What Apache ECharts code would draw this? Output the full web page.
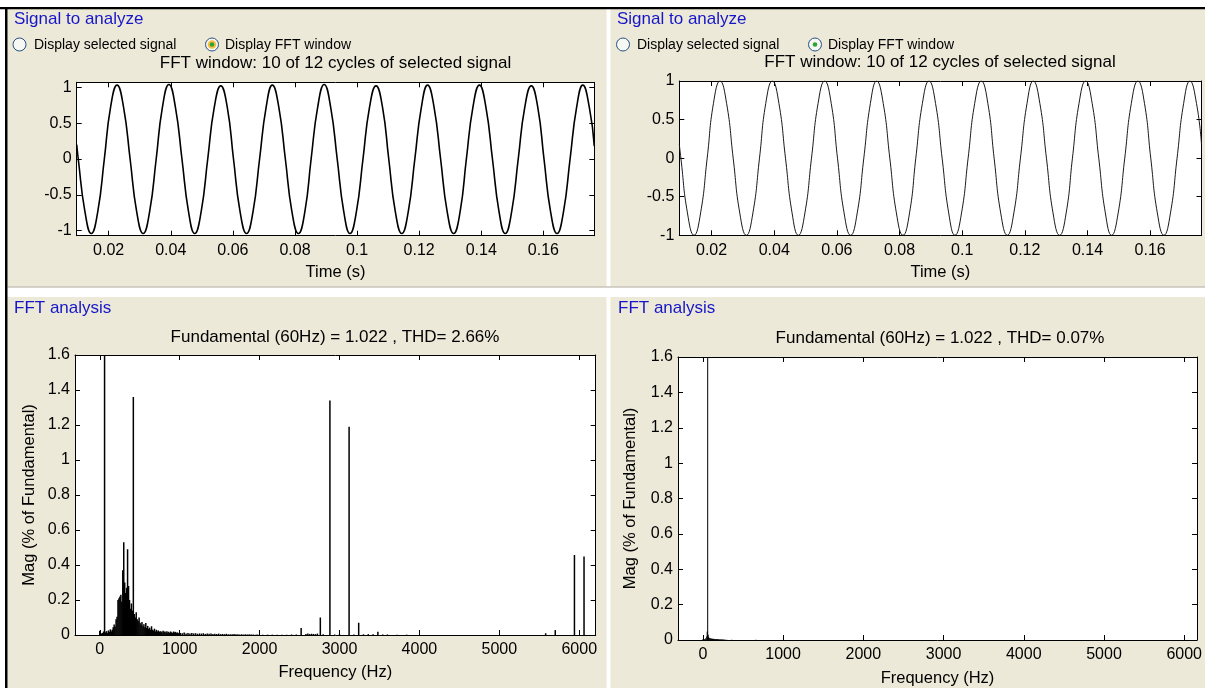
<!DOCTYPE html>
<html>
<head>
<meta charset="utf-8">
<title>FFT analysis</title>
<script src="https://cdn.jsdelivr.net/npm/echarts@6/dist/echarts.min.js"></script>
<style>
  html, body { margin: 0; padding: 0; background: #fff; }
  #main { width: 1205px; height: 688px; }
</style>
</head>
<body>
<div id="main"></div>
<script>
// FFT window time base (s)
var sigTime = [0.0097, 0.0102, 0.0123,
  0.0144, 0.0165, 0.0186, 0.0206, 0.0227, 0.0248, 0.0269, 0.0290,
  0.0311, 0.0332, 0.0353, 0.0373, 0.0394, 0.0415, 0.0436, 0.0457,
  0.0477, 0.0498, 0.0519, 0.0540, 0.0561, 0.0582, 0.0602, 0.0623,
  0.0644, 0.0665, 0.0686, 0.0707, 0.0727, 0.0748, 0.0769, 0.0790,
  0.0811, 0.0832, 0.0852, 0.0873, 0.0894, 0.0915, 0.0936, 0.0957,
  0.0977, 0.0998, 0.1019, 0.1040, 0.1061, 0.1082, 0.1102, 0.1123,
  0.1144, 0.1165, 0.1186, 0.1207, 0.1227, 0.1248, 0.1269, 0.1290,
  0.1311, 0.1332, 0.1352, 0.1373, 0.1394, 0.1415, 0.1436, 0.1457,
  0.1477, 0.1498, 0.1519, 0.1540, 0.1561, 0.1582, 0.1602, 0.1623,
  0.1644, 0.1665, 0.1686, 0.1707, 0.1727, 0.1748, 0.1764];
// left: signal with harmonics
var sigA = [0.2, 0, -0.72,
  -1.04, -0.73, 0, 0.72, 1.03, 0.72, 0, -0.73,
  -1.04, -0.73, 0, 0.72, 1.04, 0.72, 0, -0.73,
  -1.04, -0.73, 0, 0.72, 1.02, 0.72, 0, -0.73,
  -1.04, -0.73, 0, 0.72, 1.03, 0.72, 0, -0.73,
  -1.04, -0.73, 0, 0.72, 1.04, 0.72, 0, -0.73,
  -1.04, -0.73, 0, 0.72, 1.02, 0.72, 0, -0.73,
  -1.04, -0.73, 0, 0.72, 1.03, 0.72, 0, -0.73,
  -1.04, -0.73, 0, 0.72, 1.03, 0.72, 0, -0.73,
  -1.04, -0.73, 0, 0.72, 1.02, 0.72, 0, -0.73,
  -1.04, -0.73, 0, 0.72, 1.03, 0.72, 0.18];
// right: clean signal
var sigB = [0.18, 0, -0.71,
  -1, -0.71, 0, 0.71, 1, 0.71, 0, -0.71,
  -1, -0.71, 0, 0.71, 1, 0.71, 0, -0.71,
  -1, -0.71, 0, 0.71, 1, 0.71, 0, -0.71,
  -1, -0.71, 0, 0.71, 1, 0.71, 0, -0.71,
  -1, -0.71, 0, 0.71, 1, 0.71, 0, -0.71,
  -1, -0.71, 0, 0.71, 1, 0.71, 0, -0.71,
  -1, -0.71, 0, 0.71, 1, 0.71, 0, -0.71,
  -1, -0.71, 0, 0.71, 1, 0.71, 0, -0.71,
  -1, -0.71, 0, 0.71, 1, 0.71, 0, -0.71,
  -1, -0.71, 0, 0.71, 1, 0.71, 0.18];

var timeTicks = [0.02, 0.04, 0.06, 0.08, 0.1, 0.12, 0.14, 0.16];
var sigTicks = [-1, -0.5, 0, 0.5, 1];
var freqTicks = [0, 1000, 2000, 3000, 4000, 5000, 6000];
var magTicks = [0, 0.2, 0.4, 0.6, 0.8, 1, 1.2, 1.4, 1.6];

// spectrum, left (Hz / % of fundamental)
var freqA = [0, 12, 24, 36, 48, 60, 72, 84, 96, 108, 120, 132, 144, 156, 168, 180, 192, 204, 216, 228,
  240, 252, 264, 276, 288, 300, 312, 324, 336, 348, 360, 372, 384, 396, 408, 420, 432, 444, 456, 468,
  480, 492, 504, 516, 528, 540, 552, 564, 576, 588, 600, 612, 624, 636, 648, 660, 672, 684, 696, 708,
  720, 732, 744, 756, 768, 780, 792, 804, 816, 828, 840, 852, 864, 876, 888, 900, 912, 924, 936, 948,
  960, 972, 984, 996,
  1008, 1032, 1056, 1080, 1104, 1128, 1152, 1176, 1200, 1224, 1248, 1272, 1296, 1320, 1344, 1368, 1392, 1416, 1440, 1464,
  1488, 1512, 1536, 1560, 1584, 1608, 1632, 1656, 1680, 1704, 1728, 1752, 1776, 1800, 1824, 1848, 1872, 1896, 1920, 1944,
  1968, 1992,
  2040, 2100, 2160, 2220, 2280, 2340, 2400, 2460, 2520, 2580, 2604, 2628, 2652, 2676, 2700, 2724, 2760, 2796, 2880, 2940,
  3000, 3120, 3180, 3240, 3300, 3360, 3420, 3480, 3540, 3600, 3720, 3840, 5580, 5700, 5940, 6060];
var magA = [0.025, 0.010, 0.008, 0.012, 0.020, 100, 0.015, 0.022, 0.012, 0.026, 0.018, 0.032, 0.020, 0.030, 0.045, 0.060, 0.048, 0.090, 0.105, 0.200,
  0.210, 0.220, 0.230, 0.190, 0.370, 0.530, 0.300, 0.240, 0.270, 0.490, 0.280, 0.200, 0.150, 0.180, 0.140, 1.360, 0.120, 0.100, 0.130, 0.090,
  0.080, 0.100, 0.070, 0.060, 0.075, 0.050, 0.062, 0.045, 0.068, 0.040, 0.052, 0.035, 0.042, 0.030, 0.050, 0.030, 0.025, 0.036, 0.020, 0.030,
  0.020, 0.026, 0.018, 0.022, 0.020, 0.015, 0.025, 0.018, 0.020, 0.015, 0.022, 0.014, 0.018, 0.012, 0.020, 0.015, 0.012, 0.020, 0.015, 0.018,
  0.012, 0.015, 0.010, 0.012,
  0.012, 0.010, 0.014, 0.009, 0.011, 0.008, 0.012, 0.009, 0.010, 0.007, 0.009, 0.008, 0.010, 0.006, 0.008, 0.007, 0.009, 0.006, 0.007, 0.006,
  0.008, 0.005, 0.006, 0.005, 0.007, 0.004, 0.005, 0.004, 0.006, 0.004, 0.005, 0.003, 0.004, 0.003, 0.004, 0.003, 0.004, 0.003, 0.003, 0.002,
  0.003, 0.002,
  0.002, 0.002, 0.002, 0.002, 0.002, 0.002, 0.003, 0.003, 0.040, 0.006, 0.008, 0.006, 0.007, 0.006, 0.005, 0.008, 0.100, 0.004, 1.340, 0.003,
  0.004, 1.190, 0.003, 0.070, 0.004, 0.005, 0.004, 0.018, 0.003, 0.003, 0.002, 0.002, 0.010, 0.028, 0.457, 0.448];

// spectrum, right
var freqB = [0, 12, 24, 36, 48, 54, 60, 66, 72, 84, 96, 108, 120, 132, 144, 156, 168, 180, 192, 204,
  216, 228, 240, 252, 264, 276, 300, 360, 660];
var magB = [0.004, 0.005, 0.006, 0.010, 0.020, 0.048, 100, 0.030, 0.018, 0.012, 0.010, 0.008, 0.007, 0.007, 0.006, 0.006, 0.005, 0.005, 0.005, 0.004,
  0.004, 0.004, 0.004, 0.003, 0.003, 0.003, 0.002, 0.002, 0.002];

var FONT = '"Liberation Sans", Arial, Helvetica, sans-serif';
var BEIGE = '#ece9d8';
var BLUE = '#1616c8';

function pairs(xs, ys) {
  return xs.map(function (x, i) { return [x, ys[i]]; });
}

// one labelled axis plus a mirrored one (MATLAB box with ticks on all sides)
function axisPair(dim, grid, min, max, ticks, extra) {
  var common = {
    type: 'value', gridIndex: grid, min: min, max: max,
    axisLine: { show: true, onZero: false, lineStyle: { color: '#000', width: 1 } },
    axisTick: { show: true, inside: true, length: 5, customValues: ticks, lineStyle: { color: '#000', width: 1 } },
    splitLine: { show: false }
  };
  var main = Object.assign({}, common, {
    position: dim === 'x' ? 'bottom' : 'left',
    axisLabel: {
      customValues: ticks, color: '#000', fontSize: 16, fontFamily: FONT,
      margin: dim === 'x' ? 7 : 5,
      formatter: function (v) { return String(v); }
    },
    nameTextStyle: { color: '#000', fontSize: 16.5, fontFamily: FONT },
    nameLocation: 'middle'
  }, extra || {});
  var mirror = Object.assign({}, common, {
    position: dim === 'x' ? 'top' : 'right',
    axisLabel: { show: false }
  });
  return [main, mirror];
}

var grids = [
  { left: 76.7, top: 82.3, width: 517.6, height: 153.4 },
  { left: 679.3, top: 81, width: 522.2, height: 154.3 },
  { left: 75, top: 355, width: 520.7, height: 280 },
  { left: 678, top: 357, width: 526, height: 284 }
];
grids.forEach(function (g) { g.show = true; g.backgroundColor = '#fff'; g.borderWidth = 0; });

var xAxes = [].concat(
  axisPair('x', 0, 0.0097, 0.1764, timeTicks, { name: 'Time (s)', nameGap: 28 }),
  axisPair('x', 1, 0.0097, 0.1764, timeTicks, { name: 'Time (s)', nameGap: 29 }),
  axisPair('x', 2, -310, 6206, freqTicks, { name: 'Frequency (Hz)', nameGap: 29 }),
  axisPair('x', 3, -310, 6160, freqTicks, { name: 'Frequency (Hz)', nameGap: 30 })
);
var yAxes = [].concat(
  axisPair('y', 0, -1.07, 1.07, sigTicks),
  axisPair('y', 1, -1, 1, sigTicks),
  axisPair('y', 2, 0, 1.6, magTicks, { name: 'Mag (% of Fundamental)', nameGap: 37 }),
  axisPair('y', 3, 0, 1.6, magTicks, { name: 'Mag (% of Fundamental)', nameGap: 39 })
);

function rect(x, y, w, h, fill) {
  return { type: 'rect', z: -1, silent: true, shape: { x: x, y: y, width: w, height: h }, style: { fill: fill } };
}
function text(x, y, str, size, color, align) {
  return {
    type: 'text', x: x, y: y, silent: true,
    style: { text: str, fontSize: size, fontFamily: FONT, fill: color, align: align || 'left', verticalAlign: 'middle' }
  };
}
function radio(cx, cy, selected, hover) {
  var els = [{
    type: 'circle', silent: true, shape: { cx: cx, cy: cy, r: 6.5 },
    style: { fill: '#f7f7f4', stroke: '#245283', lineWidth: 1 }
  }];
  if (hover) {
    els.push({ type: 'circle', silent: true, shape: { cx: cx, cy: cy, r: 4.3 }, style: { fill: '#f9bd47' } });
  }
  if (selected) {
    els.push({ type: 'circle', silent: true, shape: { cx: cx, cy: cy, r: 2.3 }, style: { fill: '#2ea52e' } });
  }
  return els;
}

var graphics = [
  rect(7.5, 9, 599, 277.5, BEIGE),
  rect(610.5, 9, 595, 277.5, BEIGE),
  rect(7.5, 297, 599, 391, BEIGE),
  rect(610.5, 297, 595, 391, BEIGE),
  rect(7.5, 286.5, 1198, 1, '#aca899'),
  rect(0, 7, 1205, 2.2, '#000'),
  rect(5, 7, 2.5, 681, '#000'),
  text(14, 19.5, 'Signal to analyze', 17, BLUE),
  text(617, 19, 'Signal to analyze', 17, BLUE),
  text(14, 308, 'FFT analysis', 17, BLUE),
  text(618, 308, 'FFT analysis', 17, BLUE),
  text(34, 45, 'Display selected signal', 14, '#000'),
  text(225, 45, 'Display FFT window', 14, '#000'),
  text(637, 45, 'Display selected signal', 14, '#000'),
  text(828, 45, 'Display FFT window', 14, '#000'),
  text(335.5, 63.5, 'FFT window: 10 of 12 cycles of selected signal', 17, '#000', 'center'),
  text(940, 62.5, 'FFT window: 10 of 12 cycles of selected signal', 17, '#000', 'center'),
  text(335, 337, 'Fundamental (60Hz) = 1.022 , THD= 2.66%', 17, '#000', 'center'),
  text(940, 338.5, 'Fundamental (60Hz) = 1.022 , THD= 0.07%', 17, '#000', 'center')
].concat(
  radio(19.5, 44.5, false, false),
  radio(212, 44.5, true, true),
  radio(623, 44.5, false, false),
  radio(815, 44.5, true, false)
);

var chart = echarts.init(document.getElementById('main'));
chart.setOption({
  animation: false,
  backgroundColor: '#fff',
  grid: grids,
  xAxis: xAxes,
  yAxis: yAxes,
  graphic: graphics,
  series: [
    {
      type: 'line', xAxisIndex: 0, yAxisIndex: 0, data: pairs(sigTime, sigA),
      smooth: 0.5, showSymbol: false, clip: true,
      lineStyle: { color: '#000', width: 1.6 }
    },
    {
      type: 'line', xAxisIndex: 2, yAxisIndex: 2, data: pairs(sigTime, sigB),
      smooth: 0.5, showSymbol: false, clip: true,
      lineStyle: { color: '#1a1a1a', width: 1 }
    },
    {
      type: 'bar', xAxisIndex: 4, yAxisIndex: 4, data: pairs(freqA, magA),
      barWidth: 1.5, itemStyle: { color: '#000' }
    },
    {
      type: 'bar', xAxisIndex: 6, yAxisIndex: 6, data: pairs(freqB, magB),
      barWidth: 1, itemStyle: { color: '#000' }
    }
  ]
});
</script>
</body>
</html>
